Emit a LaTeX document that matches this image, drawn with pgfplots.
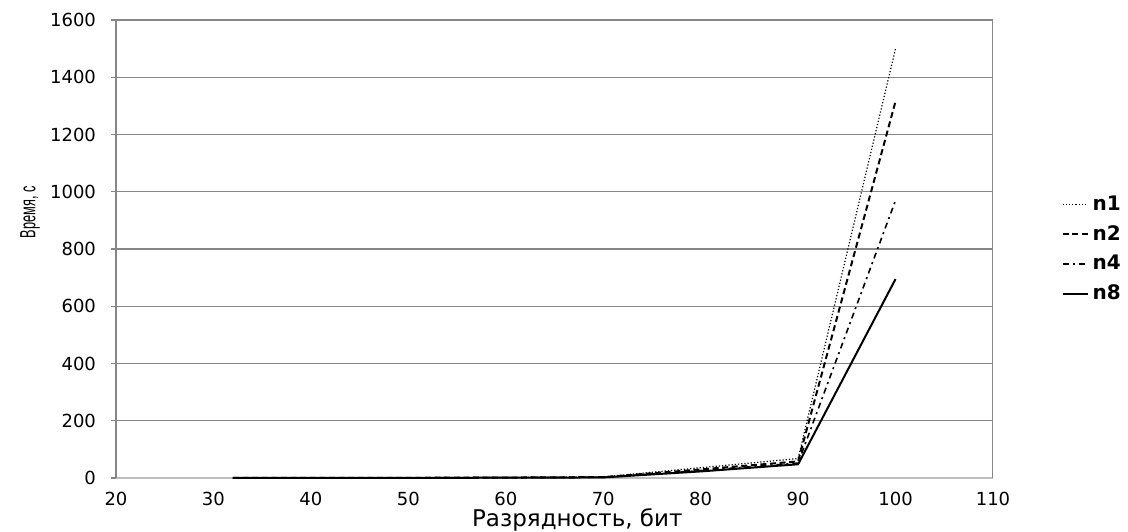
\documentclass[border=0pt]{standalone}
\usepackage{fontspec}
\setmainfont{DejaVu Sans}
\newfontfamily\narrowfont[FakeStretch=0.58]{Liberation Sans}
\usepackage{pgfplots}
\pgfplotsset{compat=1.18}

\definecolor{gridgray}{HTML}{868686}
\definecolor{axisgray}{HTML}{BEBEBE}

\begin{document}
\begin{tikzpicture}
% fixed page size: 1128x531 px at 0.5pt per px
\path[use as bounding box] (-58pt,-26.5pt) rectangle (506pt,239pt);
\begin{axis}[
  scale only axis,
  width=438.5pt, height=229pt,
  xmin=20, xmax=110, ymin=0, ymax=1600,
  xtick={20,30,...,110}, ytick={0,200,...,1600},
  axis x line=bottom, axis y line=left,
  axis line style={-},
  x axis line style={axisgray, line width=1.4pt},
  y axis line style={gridgray, line width=0.7pt},
  x tick style={draw=none},
  y tick style={gridgray, line width=0.6pt},
  tick align=outside, major tick length=2.5pt,
  ymajorgrids=true, grid style={gridgray, line width=0.6pt},
  tick label style={font=\fontsize{9}{10}\selectfont},
  /pgf/number format/assume math mode=true,
  /pgf/number format/1000 sep={},
  xticklabel style={yshift=-1pt},
  yticklabel style={xshift=-4pt},
  xlabel={Разрядность, бит},
  xlabel style={font=\fontsize{11.5}{13}\selectfont, at={(axis description cs:0.526,0)}, anchor=north, yshift=-12pt},
  ylabel={Время, с},
  ylabel style={font=\narrowfont\fontsize{11}{12}\selectfont, at={(axis description cs:-0.098,0.58)}, anchor=center},
  legend style={at={(axis description cs:1.071,0.5)}, anchor=west, draw=none, fill=none,
    font=\bfseries\fontsize{10}{11}\selectfont, row sep=2pt},
  legend cell align={left},
  legend image code/.code={\draw[#1] (0pt,0pt) -- (12.5pt,0pt);},
  every axis plot/.append style={black},
]
\addplot[densely dotted, line width=0.6pt] coordinates {
  (32,0.1) (40,0.3) (50,0.8) (60,1.8) (70,4) (80,36) (90,68) (100,1500)
};
\addlegendentry{n1}
\addplot[dash pattern=on 3pt off 1.8pt, line width=1pt] coordinates {
  (32,0.1) (40,0.2) (50,0.7) (60,1.5) (70,3) (80,30) (90,58) (100,1316)
};
\addlegendentry{n2}
\addplot[dash pattern=on 3pt off 2pt on 1pt off 2pt, line width=0.8pt] coordinates {
  (32,0.1) (40,0.2) (50,0.6) (60,1.3) (70,2.5) (80,26) (90,52) (100,970)
};
\addlegendentry{n4}
\addplot[solid, line width=1pt] coordinates {
  (32,0.1) (40,0.2) (50,0.5) (60,1.1) (70,2) (80,23) (90,48) (100,695)
};
\addlegendentry{n8}
\draw[gridgray, line width=0.7pt] (rel axis cs:1,0) -- (rel axis cs:1,1);
\end{axis}
\end{tikzpicture}
\end{document}
